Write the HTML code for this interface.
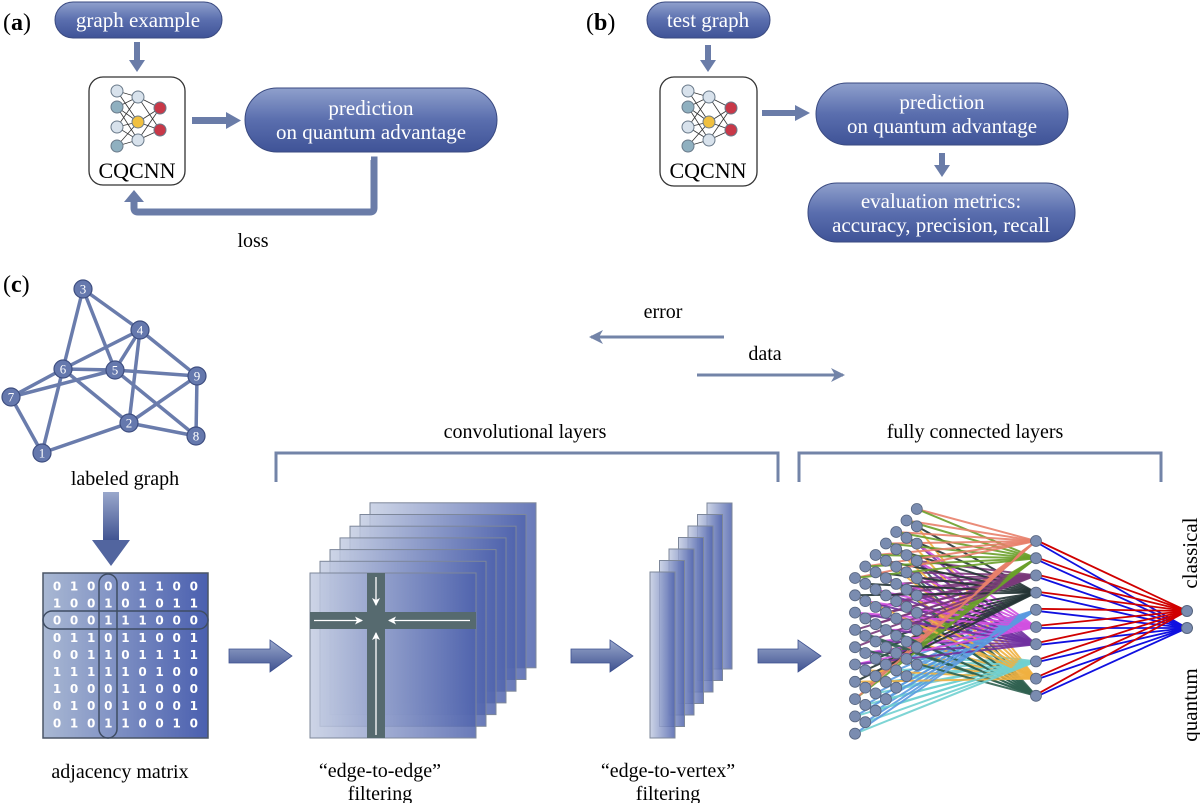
<!DOCTYPE html>
<html><head><meta charset="utf-8"><style>
html,body{margin:0;padding:0;background:#fff;}
svg{display:block;font-family:"Liberation Serif","DejaVu Serif",serif;}
text.t{font-family:"Liberation Serif","DejaVu Serif",serif;}
text.dg{font-family:"DejaVu Sans",sans-serif;font-weight:bold;}
</style></head><body>
<svg id="s" width="1200" height="803" viewBox="0 0 1200 803" xmlns="http://www.w3.org/2000/svg">
<defs>
<linearGradient id="pill" x1="0" y1="0" x2="0" y2="1">
<stop offset="0" stop-color="#8fa0cc"/><stop offset="0.5" stop-color="#5a6eae"/><stop offset="1" stop-color="#3f5397"/></linearGradient>
<linearGradient id="mat" x1="0" y1="0" x2="1" y2="0">
<stop offset="0" stop-color="#a9b8d3"/><stop offset="1" stop-color="#4a5faf"/></linearGradient>
<linearGradient id="plate" x1="0" y1="0" x2="1" y2="0">
<stop offset="0" stop-color="#c4cde2" stop-opacity="0.85"/><stop offset="1" stop-color="#4f63ad" stop-opacity="0.85"/></linearGradient>
<linearGradient id="arr" x1="0" y1="0" x2="0" y2="1">
<stop offset="0" stop-color="#9aa8cc"/><stop offset="1" stop-color="#3e5190"/></linearGradient>
<marker id="ah" markerWidth="14" markerHeight="14" refX="12" refY="7" orient="auto" markerUnits="userSpaceOnUse"><path d="M0,0 L14,7 L0,14 L4,7 Z" fill="#7384a8"/></marker>
<marker id="wh" markerWidth="8" markerHeight="8" refX="7" refY="4" orient="auto" markerUnits="userSpaceOnUse"><path d="M0,0 L8,4 L0,8 L2,4 Z" fill="#fff"/></marker>
<g id="nn">
 <g stroke="#333" stroke-width="0.8">
 <line x1="0" y1="0" x2="21" y2="6"/><line x1="0" y1="0" x2="21" y2="31"/><line x1="0" y1="16" x2="21" y2="6"/><line x1="0" y1="16" x2="21" y2="31"/>
 <line x1="0" y1="36" x2="21" y2="31"/><line x1="0" y1="36" x2="21" y2="49"/><line x1="0" y1="55" x2="21" y2="31"/><line x1="0" y1="55" x2="21" y2="49"/>
 <line x1="0" y1="16" x2="21" y2="49"/><line x1="0" y1="36" x2="21" y2="6"/>
 <line x1="21" y1="6" x2="43" y2="17"/><line x1="21" y1="31" x2="43" y2="17"/><line x1="21" y1="31" x2="43" y2="39"/><line x1="21" y1="49" x2="43" y2="39"/><line x1="21" y1="6" x2="43" y2="39"/><line x1="21" y1="49" x2="43" y2="17"/>
 </g>
 <g stroke="#6a7a8a" stroke-width="1">
 <circle cx="0" cy="0" r="6" fill="#d8e2ec"/><circle cx="0" cy="16" r="6" fill="#8fb0c0"/><circle cx="0" cy="36" r="6" fill="#d8e2ec"/><circle cx="0" cy="55" r="6" fill="#8fb0c0"/>
 <circle cx="21" cy="6" r="6" fill="#d8e2ec"/><circle cx="21" cy="31" r="6" fill="#f0c040"/><circle cx="21" cy="49" r="6" fill="#d8e2ec"/>
 <circle cx="43" cy="17" r="6" fill="#c83848"/><circle cx="43" cy="39" r="6" fill="#c83848"/>
 </g>
</g>
</defs>

<!-- (a) -->
<text class="t" x="3" y="30" font-size="24">(<tspan font-weight="bold">a</tspan>)</text>
<rect x="55" y="2" width="167" height="36" rx="18" fill="url(#pill)" stroke="#3a4a80"/>
<text class="t" x="138" y="27" font-size="21" fill="#fff" text-anchor="middle">graph example</text>
<rect x="134" y="42" width="6" height="20" fill="#6a7ca8"/><path d="M129,60 L145,60 L137,72 Z" fill="#6a7ca8"/>
<rect x="89" y="77" width="96" height="108" rx="14" fill="#fff" stroke="#333" stroke-width="1.3"/>
<use href="#nn" x="117" y="91"/>
<text class="t" x="137" y="178" font-size="22" text-anchor="middle">CQCNN</text>
<rect x="192" y="117" width="36" height="7" fill="#6a7ca8"/><path d="M226,112 L241,120.5 L226,129 Z" fill="#6a7ca8"/>
<rect x="245" y="88" width="252" height="64" rx="32" fill="url(#pill)" stroke="#3a4a80"/>
<text class="t" x="371" y="115" font-size="21" fill="#fff" text-anchor="middle">prediction</text>
<text class="t" x="371" y="139" font-size="21" fill="#fff" text-anchor="middle">on quantum advantage</text>
<path d="M371,160 L374,160 L374,208 Q374,212 370,212 L138,212 Q134,212 134,208 L134,200" fill="none" stroke="#6a7ca8" stroke-width="7"/>
<path d="M124,202 L144,202 L134,190 Z" fill="#6a7ca8"/>
<text class="t" x="253" y="247" font-size="20" text-anchor="middle">loss</text>

<!-- (b) -->
<text class="t" x="586" y="30" font-size="24">(<tspan font-weight="bold">b</tspan>)</text>
<rect x="647" y="2" width="123" height="36" rx="18" fill="url(#pill)" stroke="#3a4a80"/>
<text class="t" x="708" y="27" font-size="21" fill="#fff" text-anchor="middle">test graph</text>
<rect x="705" y="45" width="6" height="17" fill="#6a7ca8"/><path d="M700,60 L716,60 L708,72 Z" fill="#6a7ca8"/>
<rect x="660" y="77" width="97" height="109" rx="14" fill="#fff" stroke="#333" stroke-width="1.3"/>
<use href="#nn" x="688" y="91"/>
<text class="t" x="708" y="178" font-size="22" text-anchor="middle">CQCNN</text>
<rect x="762" y="110" width="35" height="6" fill="#6a7ca8"/><path d="M795,105 L810,113 L795,121 Z" fill="#6a7ca8"/>
<rect x="816" y="83" width="252" height="62" rx="31" fill="url(#pill)" stroke="#3a4a80"/>
<text class="t" x="942" y="109" font-size="21" fill="#fff" text-anchor="middle">prediction</text>
<text class="t" x="942" y="133" font-size="21" fill="#fff" text-anchor="middle">on quantum advantage</text>
<rect x="939" y="153" width="6" height="14" fill="#6a7ca8"/><path d="M934,165 L950,165 L942,177 Z" fill="#6a7ca8"/>
<rect x="808" y="183" width="267" height="59" rx="29" fill="url(#pill)" stroke="#3a4a80"/>
<text class="t" x="941" y="208" font-size="21" fill="#fff" text-anchor="middle">evaluation metrics:</text>
<text class="t" x="941" y="232" font-size="21" fill="#fff" text-anchor="middle">accuracy, precision, recall</text>

<!-- (c) -->
<text class="t" x="3" y="292" font-size="24">(<tspan font-weight="bold">c</tspan>)</text>
<g id="graph" stroke="#6a7cac" stroke-width="3.5"></g>
<g id="gnodes"></g>
<text class="t" x="125" y="485" font-size="20" text-anchor="middle">labeled graph</text>
<rect x="103" y="492" width="16" height="50" fill="url(#arr)"/><path d="M92,540 L130,540 L111,566 Z" fill="#52659f"/>

<!-- matrix -->
<rect x="43" y="573" width="165" height="165" fill="url(#mat)" stroke="#4a5566" stroke-width="1.5"/>
<g id="digits" fill="#fff" font-size="12" text-anchor="middle"></g>
<rect x="99" y="574" width="18" height="164" rx="9" fill="none" stroke="#3f4d63" stroke-width="1.5"/>
<rect x="43" y="611" width="165" height="18" rx="9" fill="none" stroke="#3f4d63" stroke-width="1.5"/>
<text class="t" x="120" y="778" font-size="20" text-anchor="middle">adjacency matrix</text>

<!-- arrows c -->
<g fill="url(#arr)" stroke="#3e5190" stroke-width="0.8">
<path d="M229,649 L270,649 L270,640 L292,656 L270,672 L270,663 L229,663 Z"/>
<path d="M571,649 L610,649 L610,640 L633,656 L610,672 L610,663 L571,663 Z"/>
<path d="M758,649 L798,649 L798,640 L821,656 L798,672 L798,663 L758,663 Z"/>
</g>

<!-- conv plates -->
<g id="plates" stroke="#7d879a" stroke-width="1"></g>
<g fill="#566a6f">
<rect x="367" y="573" width="18" height="165"/><rect x="310" y="612" width="166" height="17"/>
</g>
<g stroke="#fff" stroke-width="1.3">
<line x1="376" y1="577" x2="376" y2="605" marker-end="url(#wh)"/>
<line x1="376" y1="735" x2="376" y2="633" marker-end="url(#wh)"/>
<line x1="314" y1="620.5" x2="362" y2="620.5" marker-end="url(#wh)"/>
<line x1="470" y1="620.5" x2="389" y2="620.5" marker-end="url(#wh)"/>
</g>
<text class="t" x="380" y="777" font-size="20" text-anchor="middle">“edge-to-edge”</text>
<text class="t" x="380" y="800" font-size="20" text-anchor="middle">filtering</text>
<g id="vplates" stroke="#7d879a" stroke-width="1"></g>
<text class="t" x="668" y="777" font-size="20" text-anchor="middle">“edge-to-vertex”</text>
<text class="t" x="668" y="800" font-size="20" text-anchor="middle">filtering</text>

<!-- error/data -->
<text class="t" x="663" y="318" font-size="20" text-anchor="middle">error</text>
<line x1="724" y1="337" x2="591" y2="337" stroke="#7384a8" stroke-width="3" marker-end="url(#ah)"/>
<text class="t" x="765" y="360" font-size="20" text-anchor="middle">data</text>
<line x1="697" y1="375" x2="843" y2="375" stroke="#7384a8" stroke-width="3" marker-end="url(#ah)"/>

<!-- brackets -->
<text class="t" x="525" y="438" font-size="20" text-anchor="middle">convolutional layers</text>
<text class="t" x="975" y="438" font-size="20" text-anchor="middle">fully connected layers</text>
<path d="M276,482 L276,453 L778,453 L778,482" fill="none" stroke="#7384a8" stroke-width="3"/>
<path d="M799,482 L799,453 L1161,453 L1161,482" fill="none" stroke="#7384a8" stroke-width="3"/>

<!-- FC -->
<g id="fc"></g>
<text class="t" transform="translate(1197,553) rotate(-90)" font-size="21" text-anchor="middle">classical</text>
<text class="t" transform="translate(1197,705) rotate(-90)" font-size="21" text-anchor="middle">quantum</text>
</svg>
<script>
var NS="http://www.w3.org/2000/svg";
function el(p,t,a){var e=document.createElementNS(NS,t);for(var k in a)e.setAttribute(k,a[k]);p.appendChild(e);return e;}
var N={1:[42,453],2:[129,423],3:[83,289],4:[140,330],5:[115,370],6:[63,369],7:[11,397],8:[196,436],9:[197,376]};
var E=[[3,4],[3,6],[3,5],[4,6],[4,5],[4,2],[4,9],[6,5],[6,7],[6,1],[6,2],[5,9],[5,7],[5,8],[9,2],[9,8],[7,1],[1,2],[2,8]];
var g=document.getElementById("graph");
E.forEach(function(e){el(g,"line",{x1:N[e[0]][0],y1:N[e[0]][1],x2:N[e[1]][0],y2:N[e[1]][1]});});
var gn=document.getElementById("gnodes");
for(var k in N){el(gn,"circle",{cx:N[k][0],cy:N[k][1],r:9,fill:"#6578ad",stroke:"#3e4e80","stroke-width":1.2});
var t=el(gn,"text",{"class":"t",x:N[k][0],y:N[k][1]+4.5,"font-size":13,fill:"#fff","text-anchor":"middle"});t.textContent=k;}
var R=["010001100","100101011","000111000","011011001","001101111","111110100","100011000","010010001","010110010"];
var d=document.getElementById("digits");
R.forEach(function(r,i){for(var j=0;j<9;j++){var t=el(d,"text",{"class":"dg",x:57+17.1*j,y:590.5+17.1*i});t.textContent=r[j];}});
var p=document.getElementById("plates");
for(var i=6;i>=0;i--){el(p,"rect",{x:310+10*i,y:573-11.7*i,width:166,height:165,fill:"url(#plate)"});}
var vp=document.getElementById("vplates");
for(var i=6;i>=0;i--){el(vp,"rect",{x:650+9.5*i,y:572-11.5*i,width:25,height:166,fill:"url(#plate)"});}
var fc=document.getElementById("fc");
var cols=["#e8806a","#6aa02a","#7a3a7a","#243434","#5a9ae0","#d050e0","#7030a0","#70d0d0","#f0b040","#306050"];
var mid=[];for(var i=0;i<10;i++)mid.push([1036,541+17.2*i]);
var inp=[];for(var c=6;c>=0;c--)for(var i=0;i<10;i++)inp.push([855+10.3*c,578-11.5*c+17.3*i]);
var lg=el(fc,"g",{"stroke-width":2,"stroke-opacity":0.9});
inp.forEach(function(q,j){[(j*3)%10,(j*7+1)%10].forEach(function(m){el(lg,"line",{x1:q[0],y1:q[1],x2:mid[m][0],y2:mid[m][1],stroke:cols[m]});});});
inp.forEach(function(q){el(fc,"circle",{cx:q[0],cy:q[1],r:5.5,fill:"#7a8cb0",stroke:"#56647e","stroke-width":0.8});});
mid.forEach(function(q){el(fc,"line",{x1:q[0],y1:q[1]-1,x2:1187,y2:611,stroke:"#d00000","stroke-width":1.8});el(fc,"line",{x1:q[0],y1:q[1]+1,x2:1187,y2:628,stroke:"#1010e0","stroke-width":1.8});});
mid.forEach(function(q){el(fc,"circle",{cx:q[0],cy:q[1],r:5.5,fill:"#7a8cb0",stroke:"#56647e","stroke-width":0.8});});
el(fc,"circle",{cx:1187,cy:611,r:5.5,fill:"#7a8cb0",stroke:"#56647e"});
el(fc,"circle",{cx:1187,cy:628,r:5.5,fill:"#7a8cb0",stroke:"#56647e"});
</script>
</body></html>
